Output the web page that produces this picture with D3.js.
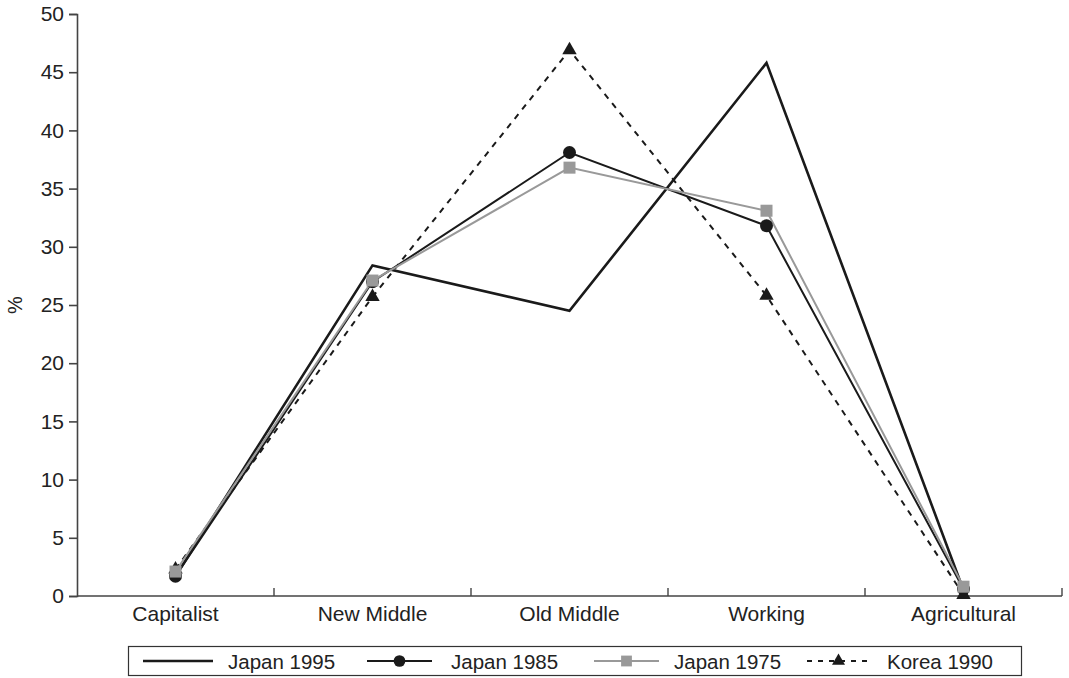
<!DOCTYPE html>
<html>
<head>
<meta charset="utf-8">
<script src="https://cdn.jsdelivr.net/npm/d3@7"></script>
<style>
  body { margin: 0; background: #fff; }
  text { font-family: "Liberation Sans", Arial, sans-serif; fill: #222; }
</style>
</head>
<body>
<div id="container"></div>
<script>
/* DATA */
const categories = ["Capitalist", "New Middle", "Old Middle", "Working", "Agricultural"]
const japan1995 = [1.7, 28.4, 24.5, 45.8, 0.5]
const japan1985 = [1.7, 27.0, 38.1, 31.8, 0.6]
const japan1975 = [2.1, 27.1, 36.8, 33.1, 0.8]
const korea1990 = [2.3, 25.7, 46.9, 25.8, 0.1]
const yTicks = [0, 5, 10, 15, 20, 25, 30, 35, 40, 45, 50]

const width = 1069, height = 678,
  margin = { top: 14, bottom: 82, left: 77, right: 7 }

const series = [
  { name: "Japan 1995", values: japan1995, color: "#1a1a1a", width: 2.6, dash: null, marker: null },
  { name: "Korea 1990", values: korea1990, color: "#1a1a1a", width: 2, dash: "6,6", marker: "triangle" },
  { name: "Japan 1985", values: japan1985, color: "#1a1a1a", width: 2, dash: null, marker: "circle" },
  { name: "Japan 1975", values: japan1975, color: "#999", width: 2, dash: null, marker: "square" }
]
const legendOrder = ["Japan 1995", "Japan 1985", "Japan 1975", "Korea 1990"]

/* SCALES */
const xScale = d3.scaleBand()
  .domain(categories)
  .range([margin.left, width - margin.right])

const yScale = d3.scaleLinear()
  .domain([0, 50])
  .range([height - margin.bottom, margin.top])

const svg = d3.select("#container")
  .append("svg")
  .attr("width", width)
  .attr("height", height)

/* AXES */
const yAxis = d3.axisLeft(yScale).tickValues(yTicks).tickSize(8).tickPadding(5)
const yAxisGroup = svg.append("g")
  .attr("transform", `translate(${margin.left}, 0)`)
  .call(yAxis)
yAxisGroup.selectAll("text").style("font-size", "21px")
yAxisGroup.selectAll("line, path").attr("stroke", "#444").attr("stroke-width", 1.6)

const xAxisGroup = svg.append("g")
  .attr("transform", `translate(0, ${yScale(0)})`)
xAxisGroup.append("line")
  .attr("x1", margin.left).attr("x2", width - margin.right)
  .attr("stroke", "#444").attr("stroke-width", 1.6)
xAxisGroup.selectAll(".tick")
  .data(categories.slice(1).concat([null]))
  .join("line")
  .attr("x1", d => d ? xScale(d) : xScale(categories[categories.length - 1]) + xScale.bandwidth())
  .attr("x2", d => d ? xScale(d) : xScale(categories[categories.length - 1]) + xScale.bandwidth())
  .attr("y1", 0).attr("y2", -8)
  .attr("stroke", "#444").attr("stroke-width", 1.4)
xAxisGroup.selectAll(".catLabel")
  .data(categories)
  .join("text")
  .attr("x", d => xScale(d) + xScale.bandwidth() / 2)
  .attr("y", 25)
  .attr("text-anchor", "middle")
  .style("font-size", "21px")
  .text(d => d)

svg.append("text")
  .attr("transform", `translate(22, ${yScale(25)}) rotate(-90)`)
  .attr("text-anchor", "middle")
  .style("font-size", "20px")
  .text("%")

/* LINES */
const cx = (d, i) => xScale(categories[i]) + xScale.bandwidth() / 2
const lineGen = d3.line().x(cx).y(d => yScale(d))

function drawMarker(g, type, color, scale = 1) {
  if (type === "circle") g.append("circle").attr("r", 6.5 * scale).attr("fill", color)
  if (type === "square") g.append("rect").attr("x", -6 * scale).attr("y", -6 * scale)
    .attr("width", 12 * scale).attr("height", 12 * scale).attr("fill", color)
  if (type === "triangle") g.append("path").attr("d", d3.symbol(d3.symbolTriangle, 90 * scale * scale)()).attr("fill", color)
}

series.forEach(s => {
  svg.append("path")
    .datum(s.values)
    .attr("fill", "none")
    .attr("stroke", s.color)
    .attr("stroke-width", s.width)
    .attr("stroke-dasharray", s.dash)
    .attr("d", lineGen)
})
series.forEach(s => {
  if (!s.marker) return
  s.values.forEach((v, i) => {
    const g = svg.append("g").attr("transform", `translate(${cx(v, i)}, ${yScale(v)})`)
    drawMarker(g, s.marker, s.color)
  })
})

/* LEGEND */
const legend = svg.append("g")
legend.append("rect")
  .attr("x", 128.5).attr("y", 646.5).attr("width", 893).attr("height", 29)
  .attr("fill", "none").attr("stroke", "#333").attr("stroke-width", 1.2)
const sampleX = [143, 367, 594, 807]
const sampleW = [70, 65, 65, 63]
const textX = [228, 451, 674, 887]
legendOrder.forEach((name, k) => {
  const s = series.find(d => d.name === name)
  const g = legend.append("g").attr("transform", `translate(0, 661)`)
  g.append("line").attr("x1", sampleX[k]).attr("x2", sampleX[k] + sampleW[k])
    .attr("stroke", s.color).attr("stroke-width", s.width)
    .attr("stroke-dasharray", s.dash ? "5,6" : null)
  if (s.marker) {
    const m = g.append("g").attr("transform", `translate(${sampleX[k] + sampleW[k] / 2}, 0)`)
    drawMarker(m, s.marker, s.color, 0.9)
  }
  g.append("text")
    .attr("x", textX[k]).attr("y", 7.5)
    .style("font-size", "20.5px")
    .text(name)
})
</script>
</body>
</html>
